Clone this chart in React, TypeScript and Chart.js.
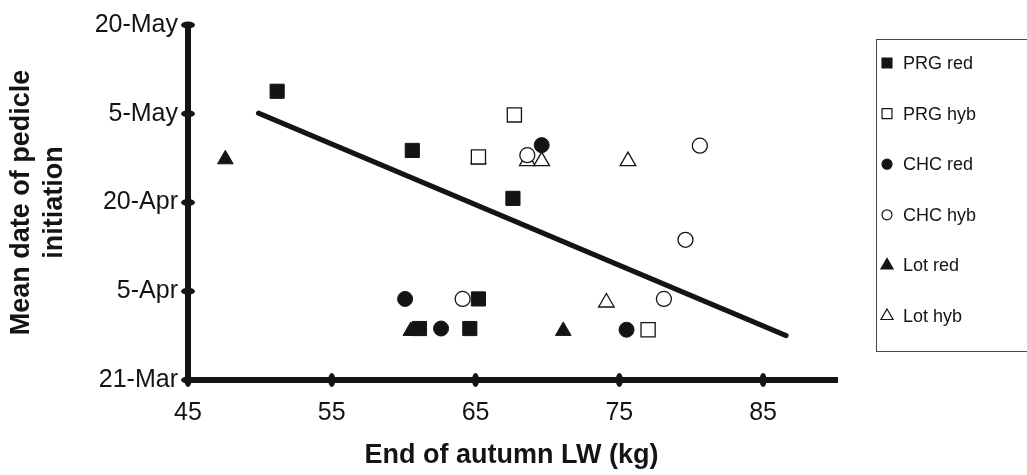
import React, { useEffect, useRef } from "react";
import { Chart, registerables } from "chart.js";
import { drawPoint } from "chart.js/helpers";

Chart.register(...registerables);

// ---- data ----
const xTickValues = [45, 55, 65, 75, 85];
const yTickValues = [0, 15, 30, 45, 60]; // days after 21-Mar
const yTickLabels = ["21-Mar", "5-Apr", "20-Apr", "5-May", "20-May"];

const prgRedX = [51.2, 60.6, 67.6, 65.2, 61.1, 64.6];
const prgRedY = [48.8, 38.8, 30.7, 13.7, 8.7, 8.7];

const prgHybX = [67.7, 65.2, 77.0];
const prgHybY = [44.8, 37.7, 8.5];

const chcRedX = [69.6, 60.1, 62.6, 75.5];
const chcRedY = [39.7, 13.7, 8.7, 8.5];

const chcHybX = [68.6, 80.6, 79.6, 64.1, 78.1];
const chcHybY = [38.0, 39.6, 23.7, 13.7, 13.7];

const lotRedX = [47.6, 65.2, 60.5, 71.1];
const lotRedY = [37.3, 37.3, 8.3, 8.3];

const lotHybX = [68.6, 69.6, 75.6, 74.1];
const lotHybY = [37.0, 37.0, 37.0, 13.1];

const trendX = [49.9, 86.6];
const trendY = [45.1, 7.5];

const seriesNames = ["PRG red", "PRG hyb", "CHC red", "CHC hyb", "Lot red", "Lot hyb"];
const seriesStyles = ["rect", "rect", "circle", "circle", "triangle", "triangle"];
const seriesFilled = [true, false, true, false, true, false];
const seriesXs = [prgRedX, prgHybX, chcRedX, chcHybX, lotRedX, lotHybX];
const seriesYs = [prgRedY, prgHybY, chcRedY, chcHybY, lotRedY, lotHybY];

const INK = "#141414";
const FONT = "'Liberation Sans', Arial, Helvetica, sans-serif";

const plotRadius: Record<string, number> = { rect: 10, circle: 7.5, triangle: 9 };
const legendRadius: Record<string, number> = { rect: 7, circle: 5, triangle: 7 };

const axisDecor = {
  id: "axisDecor",
  afterDraw(chart: any) {
    const ctx = chart.ctx;
    const xs = chart.scales.x;
    const ys = chart.scales.y;
    const area = chart.chartArea;
    ctx.save();
    ctx.fillStyle = INK;
    ctx.fillRect(area.right - 2, area.bottom - 3, 5, 6);
    xs.ticks.forEach((t: any) => {
      const px = xs.getPixelForValue(t.value);
      ctx.beginPath();
      ctx.ellipse(px, area.bottom, 3.5, 7, 0, 0, Math.PI * 2);
      ctx.fill();
    });
    ys.ticks.forEach((t: any) => {
      const py = ys.getPixelForValue(t.value);
      ctx.beginPath();
      ctx.ellipse(area.left, py, 7, 3.5, 0, 0, Math.PI * 2);
      ctx.fill();
    });
    ctx.restore();
  },
};

const boxLegend = {
  id: "boxLegend",
  afterDraw(chart: any) {
    const ctx = chart.ctx;
    ctx.save();
    ctx.strokeStyle = "#444";
    ctx.lineWidth = 1;
    ctx.strokeRect(876.5, 39.5, 220, 312);
    const top = 63;
    const step = 50.6;
    seriesNames.forEach((name, i) => {
      const y = top + i * step;
      const style = seriesStyles[i];
      ctx.fillStyle = seriesFilled[i] ? INK : "#ffffff";
      ctx.strokeStyle = INK;
      ctx.lineWidth = 1.2;
      drawPoint(ctx, { pointStyle: style, radius: legendRadius[style], borderWidth: 1.2, rotation: 0 }, 887, y);
      ctx.fillStyle = INK;
      ctx.font = `18px ${FONT}`;
      ctx.textAlign = "left";
      ctx.textBaseline = "middle";
      ctx.fillText(name, 903, y + 1);
    });
    ctx.restore();
  },
};

export default function App() {
  const ref = useRef<HTMLCanvasElement | null>(null);

  useEffect(() => {
    if (!ref.current) return;
    const scatterSets = seriesNames.map((name, i) => ({
      type: "scatter" as const,
      label: name,
      data: seriesXs[i].map((x, j) => ({ x, y: seriesYs[i][j] })),
      pointStyle: seriesStyles[i],
      pointRadius: plotRadius[seriesStyles[i]],
      pointHoverRadius: plotRadius[seriesStyles[i]],
      backgroundColor: seriesFilled[i] ? INK : "#ffffff",
      borderColor: INK,
      pointBorderWidth: seriesFilled[i] ? 1 : 1.3,
      showLine: false,
    }));
    const trendSet = {
      type: "line" as const,
      label: "trend",
      data: trendX.map((x, j) => ({ x, y: trendY[j] })),
      borderColor: INK,
      borderWidth: 5,
      pointRadius: 0,
      fill: false,
      borderCapStyle: "round" as const,
    };

    const chart = new Chart(ref.current, {
      type: "scatter",
      data: { datasets: [...scatterSets, trendSet] as any },
      options: {
        responsive: false,
        animation: false,
        layout: { padding: { top: 22, right: 192, bottom: 0, left: 0 } },
        plugins: { legend: { display: false }, tooltip: { enabled: false } },
        scales: {
          x: {
            type: "linear",
            min: 45,
            max: 90,
            afterBuildTicks: (s: any) => {
              s.ticks = xTickValues.map((v) => ({ value: v }));
            },
            afterFit: (s: any) => {
              s.height = 95;
            },
            grid: { display: false, drawTicks: false },
            border: { display: true, width: 6, color: INK },
            ticks: {
              color: INK,
              font: { family: FONT, size: 25 },
              padding: 18,
              callback: (v: any) => String(v),
            },
            title: {
              display: true,
              text: "End of autumn LW (kg)",
              color: INK,
              font: { family: FONT, size: 27, weight: "bold" },
              padding: { top: 0, bottom: 3 },
            },
          },
          y: {
            type: "linear",
            min: 0,
            max: 60,
            afterBuildTicks: (s: any) => {
              s.ticks = yTickValues.map((v) => ({ value: v }));
            },
            afterFit: (s: any) => {
              s.width = 188;
            },
            grid: { display: false, drawTicks: false },
            border: { display: true, width: 6, color: INK },
            ticks: {
              color: INK,
              font: { family: FONT, size: 25 },
              padding: 10,
              callback: (v: any) => {
                const k = yTickValues.indexOf(Number(v));
                return k >= 0 ? yTickLabels[k] : "";
              },
            },
            title: {
              display: true,
              text: ["Mean date of pedicle", "initiation"],
              color: INK,
              font: { family: FONT, size: 27, weight: "bold", lineHeight: 1.22 },
              padding: { top: 5, bottom: 0 },
            },
          },
        },
      },
      plugins: [axisDecor, boxLegend],
    });
    return () => chart.destroy();
  }, []);

  return (
    <div style={{ position: "absolute", left: 0, top: 0, width: 1027, height: 475, background: "#fff" }}>
      <canvas ref={ref} width={1027} height={475} style={{ display: "block" }} />
    </div>
  );
}
